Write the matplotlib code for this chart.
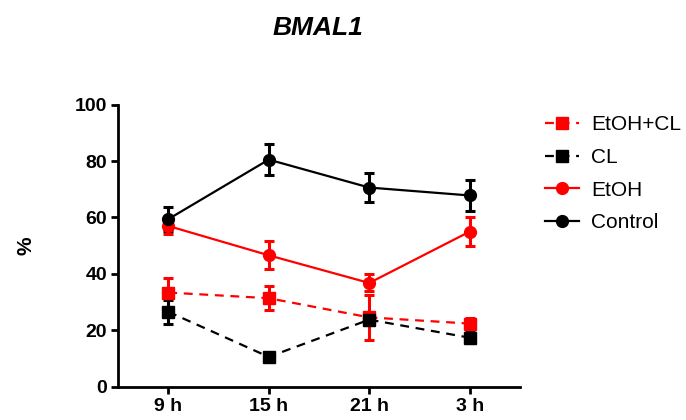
import matplotlib
matplotlib.use("Agg")
import matplotlib.pyplot as plt
from matplotlib.lines import Line2D

plt.rcParams['font.family'] = ['Liberation Sans', 'DejaVu Sans']

# time points
times = ['9 h', '15 h', '21 h', '3 h']

# mean values (%) and SEM
control = [59.4, 80.5, 70.6, 67.8]
control_err = [4.2, 5.5, 5.2, 5.5]
etoh = [57.0, 46.6, 36.8, 55.0]
etoh_err = [3.0, 5.0, 3.0, 5.2]
etoh_cl = [33.4, 31.4, 24.6, 22.4]
etoh_cl_err = [5.0, 4.2, 8.0, 2.0]
cl = [26.6, 10.6, 23.8, 17.4]
cl_err = [4.2, 0.0, 2.0, 2.0]

fig = plt.figure(figsize=(6.86, 4.2), dpi=100)
ax = fig.add_axes([0.172, 0.079, 0.586, 0.672])

x = list(range(len(times)))
common = dict(lw=1.6, elinewidth=2.2, capsize=3.5, capthick=2.2)
dash = (0, (4, 3))

ax.errorbar(x, etoh_cl, yerr=etoh_cl_err, color='red', marker='s', ms=8,
            ls=dash, **common)
ax.errorbar(x, cl, yerr=cl_err, color='black', marker='s', ms=8,
            ls=dash, **common)
ax.errorbar(x, etoh, yerr=etoh_err, color='red', marker='o', ms=8.5,
            ls='-', **common)
ax.errorbar(x, control, yerr=control_err, color='black', marker='o', ms=8.5,
            ls='-', **common)

ax.set_xlim(-0.5, 3.5)
ax.set_ylim(0, 100)
ax.set_yticks([0, 20, 40, 60, 80, 100])
ax.set_xticks(x)
ax.set_xticklabels(times)

for s in ['top', 'right']:
    ax.spines[s].set_visible(False)
for s in ['left', 'bottom']:
    ax.spines[s].set_linewidth(2)
ax.tick_params(width=2, length=5, labelsize=14, pad=3)
for lab in ax.get_xticklabels() + ax.get_yticklabels():
    lab.set_fontweight('bold')

fig.text(0.038, 0.415, '%', fontsize=15, fontweight='bold', rotation=90,
         ha='center', va='center')
fig.text(0.463, 0.933, 'BMAL1', fontsize=19, fontweight='bold',
         fontstyle='italic', ha='center', va='center')

# legend handles without error bars
handles = [
    Line2D([], [], color='red', marker='s', ms=8, lw=1.6, ls=dash),
    Line2D([], [], color='black', marker='s', ms=8, lw=1.6, ls=dash),
    Line2D([], [], color='red', marker='o', ms=8.5, lw=1.6),
    Line2D([], [], color='black', marker='o', ms=8.5, lw=1.6),
]
labels = ['EtOH+CL', 'CL', 'EtOH', 'Control']
fig.legend(handles, labels, loc='upper left', bbox_to_anchor=(0.795, 0.725),
           frameon=False, fontsize=15, handlelength=1.6, handletextpad=0.6,
           labelspacing=0.65, borderaxespad=0, borderpad=0)

plt.savefig('out.png', dpi=100)
